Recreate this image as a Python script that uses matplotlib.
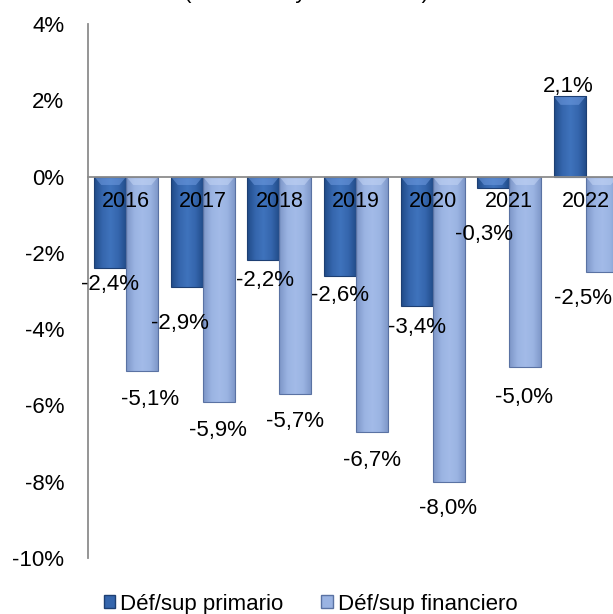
import matplotlib
matplotlib.use('Agg')
import matplotlib.pyplot as plt
import numpy as np
from matplotlib.colors import LinearSegmentedColormap
from matplotlib.patches import Patch, Polygon

plt.rcParams['font.family'] = ['Liberation Sans', 'DejaVu Sans']

# data ------------------------------------------------------------
years = ['2016', '2017', '2018', '2019', '2020', '2021', '2022']
primario = [-2.4, -2.9, -2.2, -2.6, -3.4, -0.3, 2.1]
financiero = [-5.1, -5.9, -5.7, -6.7, -8.0, -5.0, -2.5]
series_names = ['Déf/sup primario', 'Déf/sup financiero']
y_ticks = [4, 2, 0, -2, -4, -6, -8, -10]

# label nudges in pixels (dx, dy) from the bar end
prim_off = [(0, -16), (-7, -36), (2, -20), (0, -20), (0, -21), (-9, -46), (-1, 10)]
fin_off = [(8, -28), (-1, -29), (0, -28), (0, -28), (-1, -27), (-1, -30), (-19, -27)]

# colours
prim_cmap = LinearSegmentedColormap.from_list('prim', ['#204a87', '#3566ad', '#3f73bc', '#3566ad', '#204a87'])
fin_cmap = LinearSegmentedColormap.from_list('fin', ['#7c95c6', '#9ab3e2', '#a3bbe8', '#9ab3e2', '#7c95c6'])
prim_edge = '#1d3f73'
fin_edge = '#5a72a3'

fig = plt.figure(figsize=(6.13, 6.14), dpi=100)
ax = fig.add_axes([88 / 613, 1 - 558 / 614, 536 / 613, 534 / 614])
ax.set_axisbelow(False)

x = np.arange(len(years))
w = 0.418
bars1 = ax.bar(x - w / 2, primario, w, facecolor='none', edgecolor=prim_edge, linewidth=0.8, zorder=2)
bars2 = ax.bar(x + w / 2, financiero, w, facecolor='none', edgecolor=fin_edge, linewidth=0.8, zorder=2)


def shade(bars, cmap, bevel):
    grad = np.linspace(0, 1, 64).reshape(1, -1)
    for b in bars:
        x0, y0 = b.get_x(), b.get_y()
        bw, bh = b.get_width(), b.get_height()
        im = ax.imshow(grad, extent=[x0, x0 + bw, y0, y0 + bh], aspect='auto',
                       cmap=cmap, zorder=1.8, interpolation='bicubic')
        im.set_clip_path(b)
        # light bevel on the upper end
        top = max(y0, y0 + bh)
        h = min(0.22, abs(bh))
        d = 0.09
        ax.add_patch(Polygon([(x0, top), (x0 + bw, top), (x0 + bw - d, top - h), (x0 + d, top - h)],
                             closed=True, facecolor=bevel, edgecolor='none', alpha=0.55, zorder=1.9))


shade(bars1, prim_cmap, '#6f9be0')
shade(bars2, fin_cmap, '#c4d5f5')

# data labels
for i, v in enumerate(primario):
    ax.annotate(f'{v:.1f}%'.replace('.', ','), (x[i] - w / 2, v), xytext=prim_off[i],
                textcoords='offset pixels', ha='center', va='center', fontsize=16, zorder=5)
for i, v in enumerate(financiero):
    ax.annotate(f'{v:.1f}%'.replace('.', ','), (x[i] + w / 2, v), xytext=fin_off[i],
                textcoords='offset pixels', ha='center', va='center', fontsize=16, zorder=5)

# axes styling
ax.set_xlim(-0.5, len(years) - 0.5)
ax.set_ylim(-10, 4)
ax.set_yticks(y_ticks)
ax.set_yticklabels([f'{t}%' for t in y_ticks])
ax.set_xticks(x)
ax.set_xticklabels(years)
ax.tick_params(axis='y', length=0, pad=17, labelsize=16)
ax.tick_params(axis='x', length=0, pad=10.5, labelsize=15.5)
ax.spines['bottom'].set_position(('data', 0))
for s in ['left', 'bottom']:
    ax.spines[s].set_color('#8c8c8c')
    ax.spines[s].set_linewidth(1.3)
ax.spines['top'].set_visible(False)
ax.spines['right'].set_visible(False)

# cut-off subtitle at the very top
fig.text(0.5, 1 + 2 / 614, '(% del PBI y acumulado)', ha='center', va='baseline', fontsize=16)

handles = [Patch(facecolor='#3566ad', edgecolor=prim_edge, label=series_names[0]),
           Patch(facecolor='#9ab3e2', edgecolor=fin_edge, label=series_names[1])]
fig.legend(handles=handles, loc='center', bbox_to_anchor=(0.507, 0.016), ncol=2, frameon=False,
           fontsize=16, handlelength=0.5, handleheight=0.5, handletextpad=0.25, columnspacing=1.7,
           borderpad=0.1)

fig.savefig('out.png', dpi=100)
